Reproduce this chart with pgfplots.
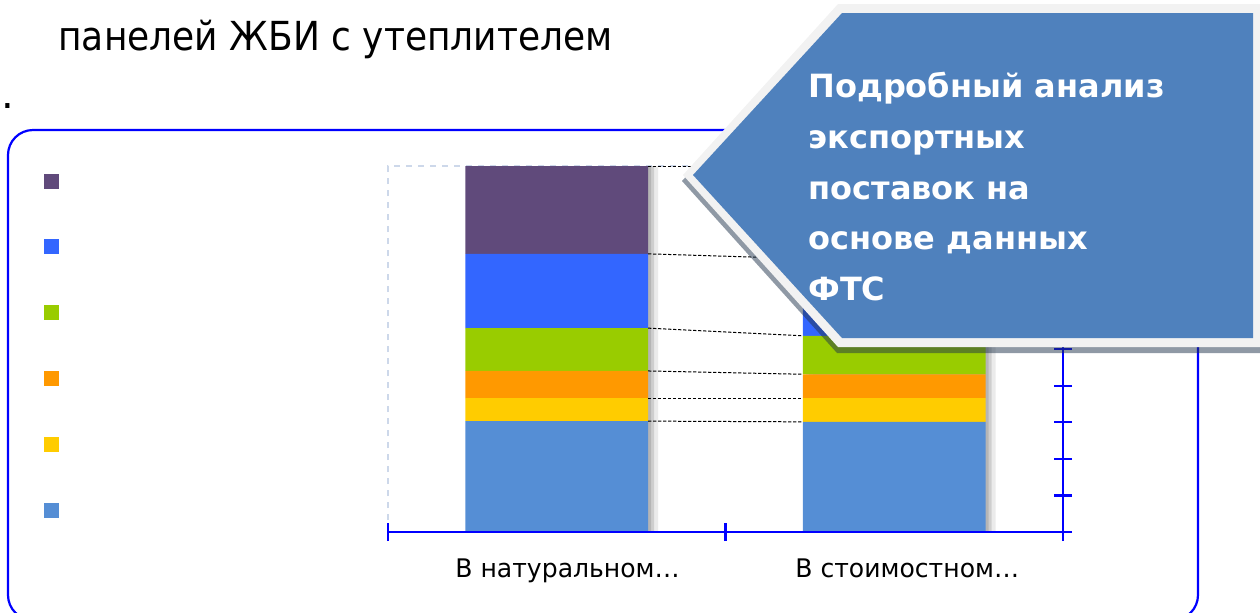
\documentclass[border=0pt]{standalone}
\usepackage{fontspec}
\setmainfont{DejaVu Sans}
\usepackage{pgfplots}
\pgfplotsset{compat=1.18}

\definecolor{cLB}{RGB}{85,142,213}
\definecolor{cYe}{RGB}{255,204,0}
\definecolor{cOr}{RGB}{255,153,0}
\definecolor{cGr}{RGB}{153,204,0}
\definecolor{cBl}{RGB}{51,102,255}
\definecolor{cPu}{RGB}{96,74,123}
\definecolor{callout}{RGB}{79,129,189}
\definecolor{cborder}{RGB}{242,242,242}
\definecolor{gridc}{RGB}{205,216,234}
\definecolor{frameblue}{RGB}{0,0,255}

\pgfplotsset{base/.style={scale only axis, width=337.5pt, height=183pt,
  xmin=0, xmax=2, ymin=0, ymax=100, at={(194pt,-266pt)}, anchor=south west, clip=false},
  conn/.style={black, no marks, line width=0.5pt, dash pattern=on 1.6pt off 0.9pt}}

\begin{document}
\begin{tikzpicture}
\useasboundingbox (0,0) rectangle (630pt,-306pt);

% ---------- background decorations (pixel coordinates) ----------
\begin{scope}[x=0.5pt,y=-0.5pt]
  \draw[frameblue, line width=1.1pt, rounded corners=12.5pt] (8,130) rectangle (1198,620);
  \node[anchor=base west, inner sep=0pt, font=\fontsize{20}{20}\selectfont] at (58,50) {\scalebox{0.9}[1]{панелей ЖБИ с утеплителем}};
  \node[anchor=base west, inner sep=0pt, font=\fontsize{20}{20}\selectfont] at (1,108) {.};
  % legend squares
  \fill[cPu] (44,174) rectangle (59,189);
  \fill[cBl] (44,239) rectangle (59,254);
  \fill[cGr] (44,305) rectangle (59,320);
  \fill[cOr] (44,371) rectangle (59,386);
  \fill[cYe] (44,437) rectangle (59,452);
  \fill[cLB] (44,503) rectangle (59,518);
  % category labels
  \node[anchor=base west, inner sep=0pt, font=\fontsize{12.8}{12.8}\selectfont] at (455,577) {\scalebox{0.98}[1]{В натуральном…}};
  \node[anchor=base west, inner sep=0pt, font=\fontsize{12.8}{12.8}\selectfont] at (795,577) {\scalebox{0.98}[1]{В стоимостном…}};
\end{scope}

% ---------- plot-area border and bar shadows ----------
\begin{axis}[base, hide axis, ybar, bar width=0.542]
  \draw[gridc, dashed, line width=0.6pt] (axis cs:0,0) -- (axis cs:0,100) -- (axis cs:2,100);
  \addplot[fill=black, fill opacity=0.08, draw=none, bar shift=5pt] coordinates {(0.5,100) (1.5,100)};
  \addplot[fill=black, fill opacity=0.12, draw=none, bar shift=3pt] coordinates {(0.5,100) (1.5,100)};
  \addplot[fill=black, fill opacity=0.12, draw=none, bar shift=1.5pt] coordinates {(0.5,100) (1.5,100)};
\end{axis}

% ---------- stacked bars (100% stacked) ----------
\begin{axis}[base, hide axis, ybar stacked, bar width=0.542]
  \addplot[fill=cLB, draw=none] coordinates {(0.5,30.3) (1.5,30.1)};
  \addplot[fill=cYe, draw=none] coordinates {(0.5,6.3) (1.5,6.5)};
  \addplot[fill=cOr, draw=none] coordinates {(0.5,7.4) (1.5,6.5)};
  \addplot[fill=cGr, draw=none] coordinates {(0.5,11.7) (1.5,10.5)};
  \addplot[fill=cBl, draw=none] coordinates {(0.5,20.3) (1.5,21.1)};
  \addplot[fill=cPu, draw=none] coordinates {(0.5,24.0) (1.5,25.3)};
\end{axis}

% ---------- series lines and axes ----------
\begin{axis}[base,
  axis x line*=bottom, axis y line*=right,
  axis line style={draw=frameblue, line width=1.4pt, -},
  xtick={0,1,2}, ytick={0,10,20,30,40,50,60,70,80,90,100},
  xticklabels={}, yticklabels={},
  major tick length=9pt, tick align=center,
  every tick/.style={draw=frameblue, line width=1.1pt}]
  \addplot[conn] coordinates {(0.771,30.3) (1.229,30.1)};
  \addplot[conn] coordinates {(0.771,36.6) (1.229,36.6)};
  \addplot[conn] coordinates {(0.771,44.0) (1.229,43.1)};
  \addplot[conn] coordinates {(0.771,55.7) (1.229,53.6)};
  \addplot[conn] coordinates {(0.771,76.0) (1.229,74.7)};
  \addplot[conn] coordinates {(0.771,100) (1.229,100)};
\end{axis}

% ---------- callout ----------
\begin{scope}[x=0.5pt,y=-0.5pt]
  \fill[black!60!callout, opacity=0.5] (682,181) -- (837,10) -- (1262,10) -- (1262,353) -- (837,353) -- cycle;
  \fill[cborder] (683,175) -- (838,4) -- (1262,4) -- (1262,347) -- (838,347) -- cycle;
  \fill[callout] (693,175) -- (842,13) -- (1253,13) -- (1253,338) -- (842,338) -- cycle;
  \begin{scope}[every node/.style={anchor=base west, inner sep=0pt, text=white, font=\bfseries\fontsize{16}{16}\selectfont}]
    \node at (808,97) {Подробный анализ};
    \node at (808,148) {экспортных};
    \node at (808,199) {поставок на};
    \node at (808,249) {основе данных};
    \node at (808,300) {ФТС};
  \end{scope}
\end{scope}
\end{tikzpicture}
\end{document}
